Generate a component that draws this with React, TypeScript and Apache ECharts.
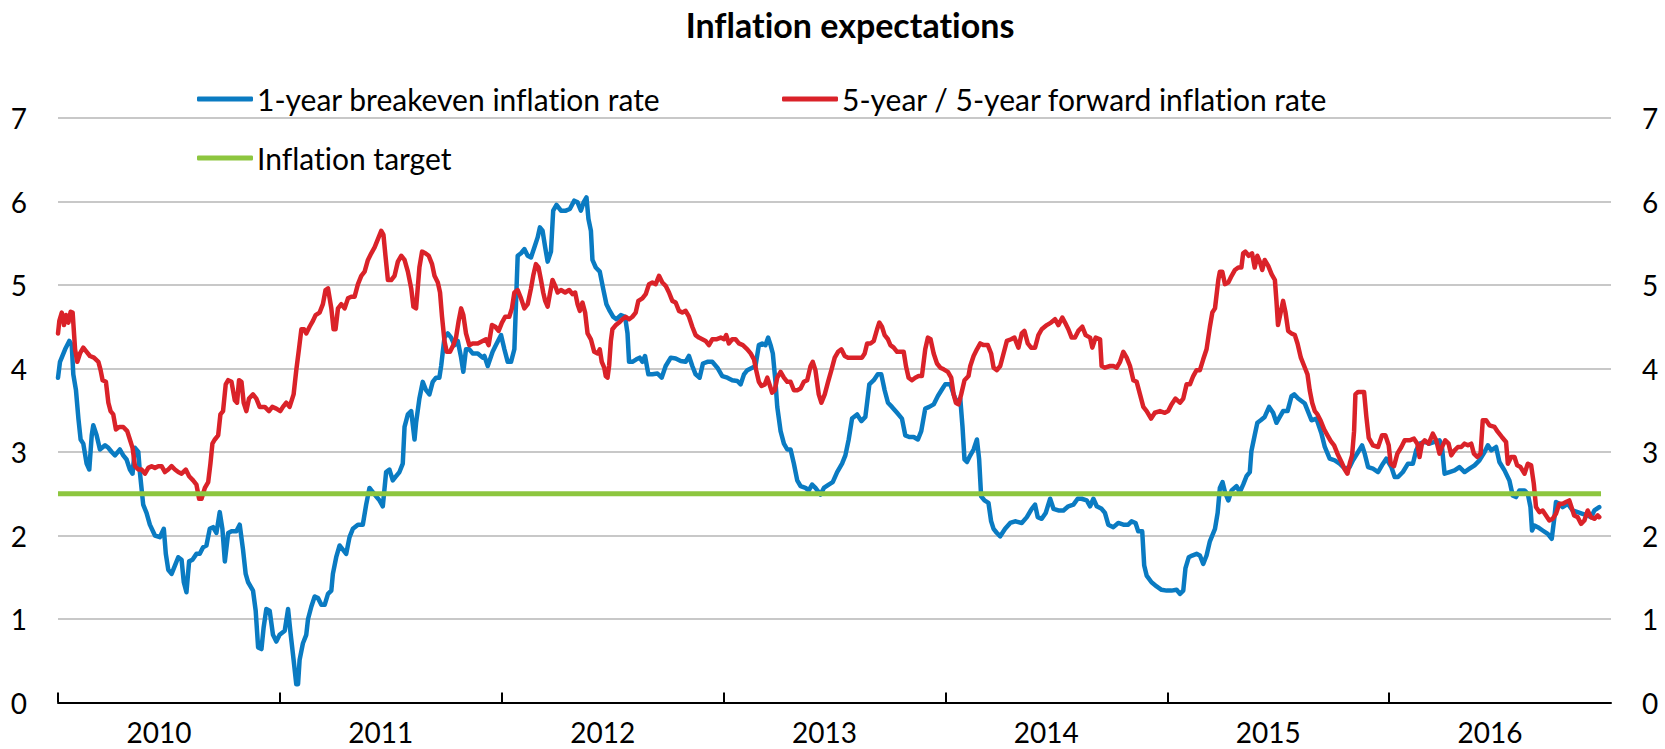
import React, { useEffect, useRef } from "react";
import * as echarts from "echarts";

// Year boundaries (tick positions) and year labels
const yearTicks: number[] = [2010, 2011, 2012, 2013, 2014, 2015, 2016];

const seriesNames: string[] = [
  "1-year breakeven inflation rate",
  "5-year / 5-year forward inflation rate",
  "Inflation target",
];

// [decimal year, percent]
const breakeven1y: [number, number][] = [
  [2010.000,3.89],[2010.009,4.08],[2010.032,4.23],[2010.051,4.33],[2010.062,4.28],[2010.069,3.93],[2010.081,3.74],[2010.092,3.40],[2010.102,3.15],[2010.114,3.10],[2010.129,2.86],[2010.141,2.79],[2010.152,3.20],[2010.159,3.32],[2010.174,3.20],[2010.189,3.03],[2010.212,3.08],[2010.227,3.05],[2010.242,3.00],[2010.257,2.96],[2010.279,3.03],[2010.294,2.96],[2010.309,2.91],[2010.324,2.79],[2010.336,2.74],[2010.347,3.05],[2010.362,3.00],[2010.369,2.76],[2010.384,2.37],[2010.399,2.27],[2010.414,2.13],[2010.437,2.00],[2010.459,1.98],[2010.477,2.08],[2010.486,1.78],[2010.497,1.59],[2010.512,1.54],[2010.527,1.64],[2010.542,1.74],[2010.557,1.71],[2010.567,1.44],[2010.579,1.32],[2010.591,1.69],[2010.606,1.71],[2010.624,1.78],[2010.639,1.78],[2010.654,1.86],[2010.669,1.88],[2010.684,2.08],[2010.699,2.10],[2010.714,2.03],[2010.729,2.28],[2010.741,2.08],[2010.752,1.69],[2010.767,2.03],[2010.782,2.05],[2010.804,2.05],[2010.819,2.13],[2010.834,1.83],[2010.846,1.54],[2010.857,1.44],[2010.879,1.34],[2010.891,1.10],[2010.902,0.66],[2010.917,0.64],[2010.927,0.90],[2010.939,1.12],[2010.954,1.10],[2010.969,0.81],[2010.984,0.73],[2010.999,0.81],
  [2011.022,0.86],[2011.037,1.12],[2011.047,0.86],[2011.062,0.51],[2011.074,0.22],[2011.082,0.22],[2011.089,0.51],[2011.104,0.71],[2011.119,0.81],[2011.127,1.00],[2011.142,1.15],[2011.157,1.27],[2011.172,1.25],[2011.187,1.17],[2011.202,1.17],[2011.217,1.30],[2011.232,1.34],[2011.239,1.54],[2011.254,1.74],[2011.269,1.88],[2011.284,1.83],[2011.299,1.78],[2011.314,1.98],[2011.329,2.08],[2011.352,2.13],[2011.374,2.13],[2011.389,2.37],[2011.404,2.57],[2011.419,2.52],[2011.434,2.47],[2011.449,2.42],[2011.464,2.35],[2011.479,2.76],[2011.494,2.79],[2011.509,2.66],[2011.524,2.71],[2011.539,2.76],[2011.554,2.86],[2011.562,3.30],[2011.577,3.45],[2011.592,3.49],[2011.607,3.15],[2011.614,3.35],[2011.629,3.64],[2011.644,3.84],[2011.659,3.74],[2011.674,3.69],[2011.689,3.84],[2011.704,3.89],[2011.719,3.89],[2011.727,4.03],[2011.742,4.37],[2011.757,4.42],[2011.772,4.37],[2011.787,4.28],[2011.802,4.33],[2011.817,4.13],[2011.827,3.96],[2011.839,4.23],[2011.854,4.23],[2011.869,4.18],[2011.892,4.18],[2011.914,4.13],[2011.922,4.15],[2011.937,4.03],[2011.959,4.20],[2011.974,4.28],[2011.997,4.40],
  [2012.012,4.23],[2012.027,4.08],[2012.042,4.08],[2012.057,4.23],[2012.072,5.35],[2012.087,5.38],[2012.102,5.43],[2012.117,5.35],[2012.132,5.33],[2012.147,5.45],[2012.162,5.57],[2012.172,5.69],[2012.184,5.65],[2012.196,5.45],[2012.207,5.28],[2012.222,5.40],[2012.232,5.89],[2012.247,5.96],[2012.267,5.89],[2012.289,5.89],[2012.307,5.91],[2012.327,6.01],[2012.342,5.99],[2012.357,5.89],[2012.369,5.99],[2012.382,6.05],[2012.391,5.79],[2012.402,5.65],[2012.409,5.30],[2012.424,5.21],[2012.442,5.16],[2012.457,4.96],[2012.472,4.77],[2012.487,4.69],[2012.502,4.62],[2012.517,4.59],[2012.537,4.64],[2012.556,4.62],[2012.567,4.42],[2012.574,4.08],[2012.589,4.08],[2012.607,4.11],[2012.622,4.13],[2012.634,4.08],[2012.646,4.15],[2012.661,3.93],[2012.679,3.93],[2012.702,3.94],[2012.721,3.89],[2012.739,4.03],[2012.762,4.13],[2012.784,4.12],[2012.807,4.09],[2012.829,4.08],[2012.844,4.15],[2012.859,4.03],[2012.874,3.93],[2012.892,3.89],[2012.907,4.06],[2012.927,4.08],[2012.949,4.08],[2012.972,4.01],[2012.994,3.91],
  [2013.017,3.89],[2013.039,3.86],[2013.062,3.85],[2013.077,3.81],[2013.092,3.93],[2013.107,3.98],[2013.129,4.01],[2013.144,4.03],[2013.159,4.28],[2013.174,4.30],[2013.189,4.28],[2013.201,4.37],[2013.212,4.28],[2013.222,4.18],[2013.234,3.84],[2013.242,3.54],[2013.257,3.25],[2013.272,3.10],[2013.287,3.03],[2013.302,3.03],[2013.317,2.86],[2013.332,2.66],[2013.347,2.59],[2013.369,2.57],[2013.384,2.54],[2013.399,2.61],[2013.414,2.57],[2013.437,2.49],[2013.452,2.57],[2013.474,2.61],[2013.492,2.64],[2013.512,2.76],[2013.534,2.86],[2013.549,2.96],[2013.564,3.15],[2013.579,3.40],[2013.602,3.45],[2013.621,3.37],[2013.639,3.42],[2013.657,3.81],[2013.677,3.86],[2013.695,3.93],[2013.711,3.93],[2013.726,3.74],[2013.741,3.59],[2013.759,3.54],[2013.782,3.47],[2013.804,3.40],[2013.819,3.20],[2013.837,3.18],[2013.857,3.18],[2013.876,3.15],[2013.891,3.25],[2013.909,3.52],[2013.927,3.54],[2013.947,3.57],[2013.966,3.67],[2013.987,3.76],[2013.999,3.81],
  [2014.022,3.81],[2014.037,3.69],[2014.052,3.59],[2014.067,3.64],[2014.077,3.30],[2014.086,2.91],[2014.097,2.88],[2014.112,2.96],[2014.127,3.03],[2014.142,3.15],[2014.152,2.91],[2014.161,2.47],[2014.176,2.42],[2014.194,2.39],[2014.206,2.17],[2014.217,2.08],[2014.232,2.03],[2014.247,1.99],[2014.269,2.08],[2014.292,2.15],[2014.314,2.17],[2014.344,2.15],[2014.367,2.22],[2014.389,2.32],[2014.404,2.37],[2014.416,2.22],[2014.434,2.20],[2014.452,2.27],[2014.472,2.44],[2014.487,2.32],[2014.509,2.30],[2014.532,2.30],[2014.554,2.35],[2014.577,2.37],[2014.596,2.44],[2014.614,2.44],[2014.637,2.42],[2014.652,2.35],[2014.667,2.44],[2014.682,2.35],[2014.704,2.32],[2014.719,2.27],[2014.734,2.13],[2014.757,2.10],[2014.779,2.15],[2014.802,2.13],[2014.824,2.13],[2014.839,2.17],[2014.857,2.15],[2014.869,2.05],[2014.887,2.05],[2014.896,1.64],[2014.907,1.52],[2014.929,1.44],[2014.952,1.39],[2014.974,1.35],[2014.997,1.34],
  [2015.019,1.34],[2015.042,1.35],[2015.057,1.30],[2015.072,1.34],[2015.082,1.61],[2015.097,1.74],[2015.112,1.76],[2015.132,1.78],[2015.147,1.76],[2015.162,1.66],[2015.177,1.76],[2015.192,1.93],[2015.215,2.08],[2015.227,2.27],[2015.237,2.57],[2015.249,2.64],[2015.260,2.52],[2015.275,2.42],[2015.290,2.54],[2015.312,2.59],[2015.327,2.52],[2015.342,2.61],[2015.357,2.71],[2015.372,2.76],[2015.379,3.01],[2015.394,3.20],[2015.406,3.35],[2015.421,3.38],[2015.439,3.42],[2015.459,3.54],[2015.477,3.47],[2015.492,3.35],[2015.507,3.42],[2015.522,3.49],[2015.542,3.49],[2015.560,3.67],[2015.572,3.69],[2015.590,3.64],[2015.620,3.58],[2015.650,3.38],[2015.672,3.40],[2015.695,3.22],[2015.710,3.06],[2015.732,2.92],[2015.755,2.90],[2015.777,2.86],[2015.800,2.80],[2015.822,2.82],[2015.837,2.90],[2015.860,3.00],[2015.878,3.08],[2015.890,2.98],[2015.905,2.82],[2015.927,2.80],[2015.950,2.76],[2015.972,2.86],[2015.987,2.92],
  [2016.010,2.82],[2016.025,2.70],[2016.040,2.70],[2016.062,2.76],[2016.085,2.86],[2016.107,2.86],[2016.122,3.02],[2016.137,3.10],[2016.160,3.12],[2016.182,3.10],[2016.205,3.12],[2016.227,3.14],[2016.238,3.06],[2016.250,2.74],[2016.272,2.76],[2016.295,2.78],[2016.317,2.82],[2016.340,2.76],[2016.362,2.80],[2016.385,2.84],[2016.407,2.90],[2016.430,3.00],[2016.445,3.08],[2016.460,3.02],[2016.482,3.06],[2016.497,2.88],[2016.520,2.78],[2016.542,2.66],[2016.557,2.48],[2016.572,2.46],[2016.587,2.54],[2016.610,2.54],[2016.625,2.50],[2016.637,2.34],[2016.644,2.06],[2016.655,2.12],[2016.670,2.10],[2016.692,2.06],[2016.715,2.02],[2016.733,1.96],[2016.745,2.22],[2016.752,2.40],[2016.767,2.38],[2016.782,2.34],[2016.805,2.38],[2016.827,2.30],[2016.850,2.28],[2016.872,2.26],[2016.895,2.24],[2016.910,2.22],[2016.925,2.30],[2016.947,2.34],
];

// [decimal year, percent]
const forward5y5y: [number, number][] = [
  [2010.000,4.42],[2010.006,4.57],[2010.017,4.67],[2010.027,4.52],[2010.036,4.64],[2010.047,4.55],[2010.057,4.68],[2010.066,4.67],[2010.077,4.23],[2010.087,4.08],[2010.099,4.18],[2010.114,4.25],[2010.129,4.20],[2010.144,4.15],[2010.162,4.13],[2010.182,4.08],[2010.192,3.98],[2010.201,3.86],[2010.216,3.84],[2010.227,3.59],[2010.237,3.49],[2010.249,3.45],[2010.261,3.27],[2010.276,3.30],[2010.294,3.30],[2010.312,3.25],[2010.324,3.15],[2010.336,3.05],[2010.347,2.83],[2010.362,2.79],[2010.377,2.79],[2010.392,2.74],[2010.407,2.81],[2010.422,2.83],[2010.437,2.81],[2010.452,2.83],[2010.467,2.83],[2010.482,2.76],[2010.497,2.79],[2010.512,2.83],[2010.527,2.79],[2010.542,2.76],[2010.557,2.74],[2010.576,2.79],[2010.591,2.71],[2010.609,2.66],[2010.624,2.61],[2010.636,2.44],[2010.647,2.44],[2010.662,2.57],[2010.677,2.64],[2010.687,2.86],[2010.696,3.10],[2010.707,3.15],[2010.722,3.20],[2010.732,3.45],[2010.744,3.49],[2010.756,3.81],[2010.767,3.86],[2010.782,3.84],[2010.797,3.62],[2010.807,3.59],[2010.816,3.86],[2010.827,3.84],[2010.837,3.59],[2010.849,3.49],[2010.861,3.64],[2010.879,3.69],[2010.894,3.64],[2010.909,3.54],[2010.932,3.54],[2010.951,3.49],[2010.966,3.54],[2010.984,3.52],
  [2011.002,3.49],[2011.014,3.54],[2011.029,3.59],[2011.044,3.54],[2011.062,3.69],[2011.074,3.98],[2011.086,4.23],[2011.097,4.47],[2011.109,4.47],[2011.119,4.42],[2011.134,4.50],[2011.149,4.57],[2011.161,4.64],[2011.179,4.67],[2011.194,4.77],[2011.206,4.94],[2011.217,4.96],[2011.232,4.72],[2011.242,4.47],[2011.251,4.47],[2011.262,4.72],[2011.277,4.77],[2011.292,4.72],[2011.307,4.84],[2011.322,4.86],[2011.337,4.86],[2011.352,5.01],[2011.367,5.11],[2011.382,5.16],[2011.397,5.30],[2011.412,5.38],[2011.427,5.45],[2011.442,5.55],[2011.457,5.65],[2011.467,5.60],[2011.476,5.35],[2011.487,5.06],[2011.502,5.06],[2011.517,5.11],[2011.532,5.28],[2011.547,5.35],[2011.562,5.30],[2011.577,5.16],[2011.592,4.96],[2011.602,4.74],[2011.614,4.72],[2011.629,5.21],[2011.641,5.40],[2011.656,5.38],[2011.671,5.35],[2011.686,5.25],[2011.697,5.11],[2011.712,5.03],[2011.722,4.91],[2011.731,4.62],[2011.742,4.33],[2011.752,4.20],[2011.767,4.20],[2011.782,4.28],[2011.794,4.37],[2011.806,4.57],[2011.817,4.72],[2011.827,4.64],[2011.839,4.42],[2011.854,4.28],[2011.869,4.30],[2011.892,4.30],[2011.914,4.33],[2011.929,4.35],[2011.941,4.28],[2011.956,4.52],[2011.971,4.50],[2011.986,4.45],
  [2012.001,4.55],[2012.016,4.62],[2012.034,4.62],[2012.046,4.72],[2012.057,4.91],[2012.072,4.94],[2012.087,4.84],[2012.102,4.72],[2012.117,4.77],[2012.132,4.96],[2012.142,5.11],[2012.154,5.25],[2012.166,5.21],[2012.177,5.06],[2012.187,4.91],[2012.196,4.81],[2012.207,4.74],[2012.217,4.89],[2012.229,5.06],[2012.241,4.99],[2012.252,4.91],[2012.267,4.94],[2012.286,4.91],[2012.304,4.94],[2012.319,4.89],[2012.331,4.91],[2012.342,4.77],[2012.352,4.69],[2012.364,4.79],[2012.376,4.67],[2012.387,4.42],[2012.402,4.35],[2012.417,4.20],[2012.432,4.18],[2012.442,4.23],[2012.451,4.08],[2012.462,4.01],[2012.469,3.91],[2012.477,3.89],[2012.484,4.03],[2012.492,4.33],[2012.499,4.47],[2012.514,4.52],[2012.529,4.55],[2012.544,4.59],[2012.559,4.62],[2012.574,4.59],[2012.589,4.62],[2012.604,4.67],[2012.616,4.81],[2012.634,4.84],[2012.649,4.89],[2012.664,5.01],[2012.679,5.03],[2012.694,5.01],[2012.709,5.11],[2012.724,5.03],[2012.739,4.99],[2012.754,4.91],[2012.769,4.81],[2012.784,4.79],[2012.799,4.69],[2012.814,4.67],[2012.829,4.69],[2012.844,4.62],[2012.859,4.50],[2012.874,4.40],[2012.889,4.37],[2012.904,4.35],[2012.919,4.33],[2012.934,4.28],[2012.949,4.35],[2012.967,4.35],[2012.987,4.37],
  [2013.002,4.35],[2013.012,4.40],[2013.024,4.30],[2013.039,4.35],[2013.054,4.35],[2013.069,4.30],[2013.087,4.28],[2013.107,4.23],[2013.122,4.18],[2013.137,4.11],[2013.147,3.98],[2013.159,3.84],[2013.171,3.79],[2013.186,3.81],[2013.197,3.89],[2013.207,3.81],[2013.219,3.71],[2013.231,3.74],[2013.242,3.89],[2013.257,3.96],[2013.272,3.89],[2013.287,3.84],[2013.302,3.84],[2013.317,3.74],[2013.332,3.74],[2013.347,3.76],[2013.362,3.84],[2013.377,3.86],[2013.392,4.03],[2013.402,4.08],[2013.414,3.98],[2013.429,3.69],[2013.441,3.59],[2013.456,3.69],[2013.471,3.84],[2013.486,3.98],[2013.501,4.13],[2013.516,4.20],[2013.531,4.23],[2013.546,4.15],[2013.561,4.13],[2013.579,4.13],[2013.602,4.13],[2013.624,4.13],[2013.636,4.18],[2013.647,4.30],[2013.662,4.30],[2013.677,4.33],[2013.692,4.47],[2013.702,4.55],[2013.714,4.50],[2013.726,4.40],[2013.741,4.35],[2013.752,4.28],[2013.767,4.25],[2013.782,4.20],[2013.797,4.20],[2013.812,4.20],[2013.822,4.03],[2013.834,3.89],[2013.849,3.86],[2013.864,3.89],[2013.879,3.91],[2013.894,3.91],[2013.909,4.23],[2013.921,4.37],[2013.933,4.35],[2013.947,4.18],[2013.962,4.06],[2013.977,4.01],[2013.992,3.99],
  [2014.011,3.96],[2014.026,3.89],[2014.037,3.69],[2014.047,3.59],[2014.059,3.57],[2014.071,3.69],[2014.086,3.86],[2014.104,3.91],[2014.112,4.03],[2014.127,4.15],[2014.142,4.23],[2014.157,4.30],[2014.172,4.28],[2014.191,4.28],[2014.206,4.18],[2014.217,4.01],[2014.232,3.98],[2014.247,4.03],[2014.262,4.18],[2014.277,4.33],[2014.296,4.35],[2014.311,4.37],[2014.329,4.25],[2014.344,4.42],[2014.356,4.45],[2014.371,4.30],[2014.386,4.25],[2014.404,4.25],[2014.419,4.40],[2014.434,4.47],[2014.457,4.52],[2014.476,4.55],[2014.494,4.59],[2014.509,4.52],[2014.527,4.61],[2014.539,4.55],[2014.554,4.47],[2014.569,4.37],[2014.584,4.37],[2014.599,4.45],[2014.617,4.50],[2014.632,4.40],[2014.652,4.37],[2014.662,4.25],[2014.677,4.37],[2014.697,4.35],[2014.704,4.03],[2014.719,4.01],[2014.742,4.03],[2014.757,4.03],[2014.772,4.01],[2014.787,4.08],[2014.802,4.20],[2014.817,4.13],[2014.832,4.03],[2014.847,3.86],[2014.862,3.84],[2014.877,3.69],[2014.892,3.54],[2014.907,3.49],[2014.927,3.40],[2014.944,3.47],[2014.967,3.49],[2014.989,3.47],
  [2015.004,3.49],[2015.019,3.57],[2015.037,3.64],[2015.057,3.59],[2015.072,3.64],[2015.087,3.81],[2015.102,3.81],[2015.117,3.91],[2015.132,3.98],[2015.147,3.98],[2015.162,4.11],[2015.177,4.23],[2015.192,4.50],[2015.203,4.67],[2015.215,4.72],[2015.230,5.06],[2015.237,5.16],[2015.248,5.16],[2015.260,5.01],[2015.275,5.03],[2015.290,5.11],[2015.305,5.18],[2015.320,5.21],[2015.334,5.21],[2015.342,5.38],[2015.352,5.40],[2015.367,5.35],[2015.382,5.38],[2015.394,5.21],[2015.406,5.35],[2015.417,5.28],[2015.428,5.18],[2015.439,5.30],[2015.455,5.23],[2015.470,5.13],[2015.485,5.06],[2015.492,4.81],[2015.499,4.52],[2015.511,4.67],[2015.522,4.81],[2015.533,4.67],[2015.545,4.45],[2015.560,4.42],[2015.575,4.40],[2015.587,4.30],[2015.602,4.13],[2015.617,4.03],[2015.632,3.93],[2015.642,3.74],[2015.653,3.59],[2015.665,3.49],[2015.677,3.45],[2015.692,3.37],[2015.707,3.27],[2015.722,3.20],[2015.737,3.13],[2015.752,3.08],[2015.767,2.98],[2015.785,2.88],[2015.800,2.79],[2015.812,2.74],[2015.824,2.88],[2015.833,2.96],[2015.842,3.25],[2015.848,3.69],[2015.860,3.72],[2015.875,3.72],[2015.887,3.72],[2015.897,3.43],[2015.908,3.17],[2015.927,3.08],[2015.950,3.06],[2015.968,3.20],[2015.983,3.20],[2015.998,3.08],
  [2016.007,2.86],[2016.022,2.83],[2016.037,2.98],[2016.055,3.06],[2016.070,3.14],[2016.092,3.14],[2016.112,3.16],[2016.127,3.10],[2016.137,2.94],[2016.148,3.10],[2016.160,3.14],[2016.178,3.10],[2016.197,3.22],[2016.212,3.14],[2016.227,2.98],[2016.238,3.06],[2016.253,3.14],[2016.268,3.10],[2016.280,2.96],[2016.295,3.02],[2016.310,3.06],[2016.325,3.06],[2016.340,3.10],[2016.355,3.08],[2016.370,3.10],[2016.382,2.98],[2016.397,2.94],[2016.412,2.98],[2016.422,3.38],[2016.437,3.38],[2016.452,3.32],[2016.475,3.30],[2016.490,3.24],[2016.508,3.18],[2016.527,3.12],[2016.535,2.86],[2016.550,2.94],[2016.565,2.94],[2016.577,2.84],[2016.592,2.82],[2016.610,2.74],[2016.625,2.86],[2016.640,2.84],[2016.652,2.62],[2016.662,2.34],[2016.677,2.28],[2016.692,2.30],[2016.707,2.24],[2016.722,2.18],[2016.737,2.20],[2016.752,2.26],[2016.767,2.38],[2016.782,2.38],[2016.797,2.40],[2016.812,2.42],[2016.822,2.34],[2016.834,2.24],[2016.850,2.22],[2016.865,2.14],[2016.880,2.18],[2016.895,2.30],[2016.910,2.22],[2016.925,2.20],[2016.940,2.24],[2016.947,2.22],
];

// [decimal year, percent]
const inflationTarget: [number, number][] = [
  [2010.0, 2.5],
  [2016.955, 2.5],
];

const COLORS = ["#0A7BC2", "#DA2229", "#8DC63F"];

export default function App() {
  const ref = useRef<HTMLDivElement>(null);

  useEffect(() => {
    if (!ref.current) return;
    const chart = echarts.init(ref.current, null, { renderer: "svg" });
    const font = "Lato, 'Noto Sans', sans-serif";
    const legendCommon = {
      icon: "roundRect",
      itemWidth: 56,
      itemHeight: 5,
      itemGap: 0,
      padding: 0,
      selectedMode: false,
      textStyle: { fontSize: 30, color: "#000", fontFamily: font, padding: [0, 0, 0, -1] },
    };
    const yAxisCommon = {
      type: "value",
      min: 0,
      max: 7,
      interval: 1,
      axisLine: { show: false },
      axisTick: { show: false },
      axisLabel: { fontSize: 28, color: "#000", margin: 31, fontFamily: font },
    };
    chart.setOption({
      animation: false,
      backgroundColor: "#fff",
      textStyle: { fontFamily: font },
      title: {
        text: "Inflation expectations",
        left: 845,
        top: 2,
        textAlign: "center",
        textStyle: { fontSize: 34, fontWeight: "bold", color: "#000", fontFamily: font },
      },
      legend: [
        { ...legendCommon, data: [seriesNames[0]], left: 197, top: 84 },
        { ...legendCommon, data: [seriesNames[1]], left: 782, top: 84 },
        { ...legendCommon, data: [seriesNames[2]], left: 197, top: 143 },
      ],
      grid: { left: 58, right: 54, top: 118, bottom: 46.5, containLabel: false },
      xAxis: {
        type: "value",
        min: 2010,
        max: 2017,
        axisLine: { show: true, onZero: false, lineStyle: { color: "#000", width: 2 } },
        axisTick: {
          show: true,
          inside: true,
          length: 10,
          customValues: yearTicks,
          lineStyle: { color: "#000", width: 2 },
        },
        axisLabel: {
          customValues: yearTicks.map((y) => y + 0.5),
          formatter: (v: number) => String(Math.floor(v)),
          fontSize: 28,
          color: "#000",
          margin: 15,
          padding: [0, 20, 0, 0],
          fontFamily: font,
        },
        splitLine: { show: false },
      },
      yAxis: [
        {
          ...yAxisCommon,
          position: "left",
          splitLine: { show: true, lineStyle: { color: "#C8C8C8", width: 2 } },
        },
        {
          ...yAxisCommon,
          position: "right",
          splitLine: { show: false },
        },
      ],
      series: [
        {
          name: seriesNames[0],
          type: "line",
          data: breakeven1y,
          yAxisIndex: 0,
          symbol: "none",
          showSymbol: false,
          color: COLORS[0],
          lineStyle: { color: COLORS[0], width: 4.5, join: "round", cap: "round" },
          z: 2,
        },
        {
          name: seriesNames[1],
          type: "line",
          data: forward5y5y,
          yAxisIndex: 0,
          symbol: "none",
          showSymbol: false,
          color: COLORS[1],
          lineStyle: { color: COLORS[1], width: 4.5, join: "round", cap: "round" },
          z: 3,
        },
        {
          name: seriesNames[2],
          type: "line",
          data: inflationTarget,
          yAxisIndex: 0,
          symbol: "none",
          showSymbol: false,
          color: COLORS[2],
          lineStyle: { color: COLORS[2], width: 5 },
          z: 4,
        },
      ],
    });
    return () => chart.dispose();
  }, []);

  return (
    <>
      <style>{"svg text { font-variant-ligatures: none; font-feature-settings: 'liga' 0, 'clig' 0; }"}</style>
      <div
        ref={ref}
        style={{ position: "fixed", left: 0, top: 0, width: 1665, height: 749 }}
      />
    </>
  );
}
